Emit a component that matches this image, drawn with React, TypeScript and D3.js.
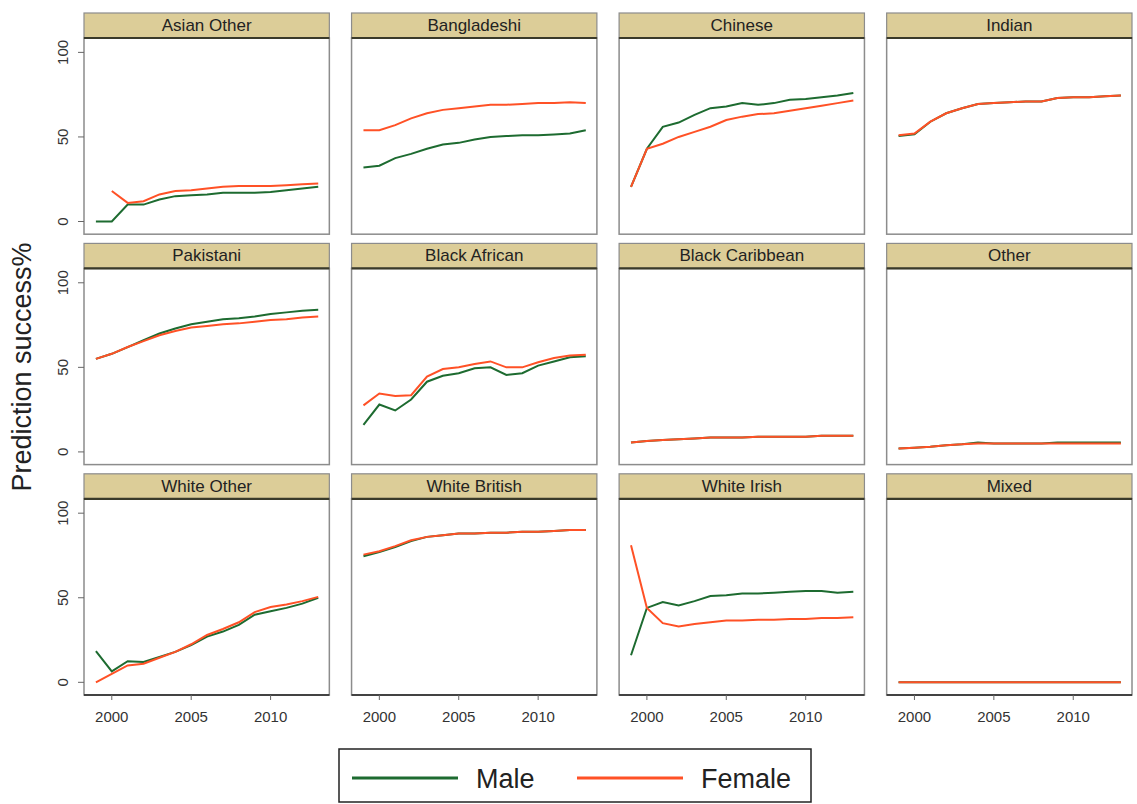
import React from 'react';
import * as d3 from 'd3';

const years = [1999, 2000, 2001, 2002, 2003, 2004, 2005, 2006, 2007, 2008, 2009, 2010, 2011, 2012, 2013];

const groups = [
  'Asian Other', 'Bangladeshi', 'Chinese', 'Indian',
  'Pakistani', 'Black African', 'Black Caribbean', 'Other',
  'White Other', 'White British', 'White Irish', 'Mixed',
];

// prediction success % by year, one array per group
const male: (number | null)[][] = [
  [0, 0, 10, 10, 13, 15, 15.5, 16, 17, 17, 17, 17.5, 18.5, 19.5, 20.5],
  [32, 33, 37.5, 40, 43, 45.5, 46.5, 48.5, 50, 50.5, 51, 51, 51.5, 52, 54],
  [20.5, 43, 56, 58.5, 63, 67, 68, 70, 69, 70, 72, 72.5, 73.5, 74.5, 76],
  [50.5, 51.5, 59, 64, 67, 69.5, 70, 70.5, 71, 71, 73, 73.5, 73.5, 74, 74.5],
  [55, 58, 62, 66, 70, 73, 75.5, 77, 78.5, 79, 80, 81.5, 82.5, 83.5, 84],
  [16, 28, 24.5, 31, 41.5, 45, 46.5, 49.5, 50, 45.5, 46.5, 51, 53.5, 56, 56.5],
  [5.5, 6.5, 7, 7.5, 8, 8.5, 8.5, 8.5, 9, 9, 9, 9, 9.5, 9.5, 9.5],
  [2, 2.5, 3, 4, 4.5, 5.5, 5, 5, 5, 5, 5.5, 5.5, 5.5, 5.5, 5.5],
  [18.5, 6.5, 12.5, 12, 15, 18, 22, 27, 30, 34, 40, 42, 44, 46.5, 50],
  [74.5, 77, 80, 83.5, 86, 87, 88, 88, 88.5, 88.5, 89, 89, 89.5, 90, 90],
  [16, 44, 47.5, 45.5, 48, 51, 51.5, 52.5, 52.5, 53, 53.5, 54, 54, 53, 53.5],
  [0, 0, 0, 0, 0, 0, 0, 0, 0, 0, 0, 0, 0, 0, 0],
];

const female: (number | null)[][] = [
  [null, 18, 11, 12, 16, 18, 18.5, 19.5, 20.5, 21, 21, 21, 21.5, 22, 22.5],
  [54, 54, 57, 61, 64, 66, 67, 68, 69, 69, 69.5, 70, 70, 70.5, 70],
  [20.5, 43, 46, 50, 53, 56, 60, 62, 63.5, 64, 65.5, 67, 68.5, 70, 71.5],
  [51, 52, 59, 64, 67, 69.5, 70, 70.5, 71, 71, 73, 73.5, 73.5, 74, 74.5],
  [55, 58, 62, 65.5, 69, 71.5, 73.5, 74.5, 75.5, 76, 77, 78, 78.5, 79.5, 80],
  [27.5, 34.5, 33, 33.5, 44.5, 49, 50, 52, 53.5, 50, 50, 53, 55.5, 57, 57.5],
  [5.5, 6.5, 7, 7.5, 8, 8.5, 8.5, 8.5, 9, 9, 9, 9, 9.5, 9.5, 9.5],
  [2, 2.5, 3, 4, 4.5, 5, 5, 5, 5, 5, 5, 5, 5, 5, 5],
  [0, 5, 10, 11, 14.5, 18, 22.5, 28, 31.5, 35.5, 41.5, 44.5, 46, 48, 50.5],
  [75.5, 77.5, 80.5, 84, 86, 87, 88, 88, 88.5, 88.5, 89, 89, 89.5, 90, 90],
  [81, 44, 35, 33, 34.5, 35.5, 36.5, 36.5, 37, 37, 37.5, 37.5, 38, 38, 38.5],
  [0, 0, 0, 0, 0, 0, 0, 0, 0, 0, 0, 0, 0, 0, 0],
];

const yTicks = [0, 50, 100];
const xTicks = [2000, 2005, 2010];
const legendItems = ['Male', 'Female'];

const MALE_COLOR = '#1d6b30';
const FEMALE_COLOR = '#ff5126';
const STRIP_FILL = '#dccd98';
const FONT = 'Arial, "Liberation Sans", sans-serif';

const App: React.FC = () => {
  const width = 1137;
  const height = 804;

  const colX = d3.scaleBand<number>().domain([0, 1, 2, 3]).range([84, 1132]).paddingInner(0.083);
  const rowY = d3.scaleBand<number>().domain([0, 1, 2]).range([13, 695]).paddingInner(0.04);
  const panelW = colX.bandwidth();
  const stripH = 25;

  return (
    <svg width={width} height={height} style={{ display: 'block', position: 'absolute', left: 0, top: 0, background: '#fff' }}>
      <rect width={width} height={height} fill="#fff" />
      {groups.map((g, i) => {
        const c = i % 4;
        const r = Math.floor(i / 4);
        const x0 = colX(c)!;
        const top = rowY(r)!;
        const bottom = top + rowY.bandwidth();
        const plotTop = top + stripH;
        const x = d3.scaleLinear().domain([1998.25, 2013.7]).range([x0, x0 + panelW]);
        const y = d3.scaleLinear().domain([-7.5, 108.5]).range([bottom, plotTop]);
        const line = d3
          .line<number | null>()
          .defined((d) => d !== null)
          .x((_, k) => x(years[k]))
          .y((d) => y(d as number));
        return (
          <g key={g}>
            <rect x={x0} y={plotTop} width={panelW} height={bottom - plotTop} fill="#fff" stroke="#8c8c8c" strokeWidth={1.5} />
            <rect x={x0} y={top} width={panelW} height={stripH} fill={STRIP_FILL} stroke="#8c8c8c" strokeWidth={1.2} />
            <line x1={x0} x2={x0 + panelW} y1={plotTop} y2={plotTop} stroke="#3a3a2a" strokeWidth={2.2} />
            <text x={x0 + panelW / 2} y={top + 18} textAnchor="middle" fontFamily={FONT} fontSize={17} fill="#222">
              {g}
            </text>
            <path d={line(male[i]) || ''} fill="none" stroke={MALE_COLOR} strokeWidth={2} />
            <path d={line(female[i]) || ''} fill="none" stroke={FEMALE_COLOR} strokeWidth={2} />
            {c === 0 &&
              yTicks.map((t) => (
                <g key={t}>
                  <line x1={x0 - 6} x2={x0} y1={y(t)} y2={y(t)} stroke="#666" strokeWidth={1} />
                  <text
                    transform={`translate(${x0 - 16},${y(t)}) rotate(-90)`}
                    textAnchor="middle"
                    fontFamily={FONT}
                    fontSize={15}
                    fill="#333"
                  >
                    {t}
                  </text>
                </g>
              ))}
            {r === 2 && (
              <g>
                <line x1={x0} x2={x0 + panelW} y1={bottom} y2={bottom} stroke="#222" strokeWidth={1.6} />
                {xTicks.map((t) => (
                  <g key={t}>
                    <line x1={x(t)} x2={x(t)} y1={bottom} y2={bottom + 5} stroke="#666" strokeWidth={1} />
                    <text x={x(t)} y={bottom + 27} textAnchor="middle" fontFamily={FONT} fontSize={15} fill="#333">
                      {t}
                    </text>
                  </g>
                ))}
              </g>
            )}
          </g>
        );
      })}

      <text
        transform="translate(31,367) rotate(-90)"
        textAnchor="middle"
        fontFamily={FONT}
        fontSize={27}
        fill="#222"
      >
        Prediction success%
      </text>

      <g>
        <rect x={339} y={749} width={472} height={53} fill="#fff" stroke="#222" strokeWidth={1.5} />
        {legendItems.map((name, k) => {
          const lx = k === 0 ? 352 : 577;
          return (
            <g key={name}>
              <line x1={lx} x2={lx + 106} y1={778} y2={778} stroke={k === 0 ? MALE_COLOR : FEMALE_COLOR} strokeWidth={3} />
              <text x={lx + 124} y={788} fontFamily={FONT} fontSize={27} fill="#222">
                {name}
              </text>
            </g>
          );
        })}
      </g>
    </svg>
  );
};

export default App;
